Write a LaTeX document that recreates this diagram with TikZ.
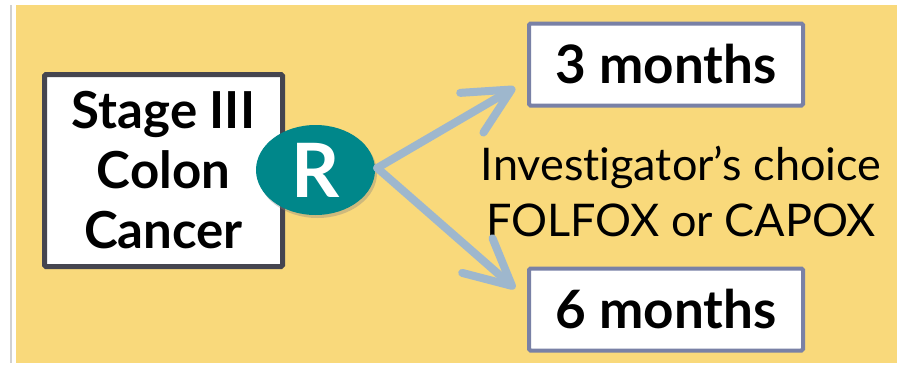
\documentclass[tikz,border=0pt]{standalone}
\usepackage{fontspec}
\setmainfont{Lato}[Ligatures=NoCommon]
\usetikzlibrary{calc,positioning,shapes,arrows.meta,shadows}
\definecolor{bgyel}{HTML}{F9D97B}
\definecolor{rteal}{HTML}{00878A}
\definecolor{arrblue}{HTML}{9EB7CD}
\definecolor{boxgray}{HTML}{45454F}
\definecolor{boxblue}{HTML}{7981A6}
\tikzset{stagebox/.style={draw=boxgray,fill=white,line width=5pt,rounded corners=1.5pt,
minimum width=238pt,minimum height=192pt,align=center,inner sep=0pt,
font=\bfseries\fontsize{51}{60}\selectfont},
armbox/.style={draw=boxblue,fill=white,line width=4pt,rounded corners=1.5pt,
minimum width=274pt,minimum height=82pt,inner sep=0pt,font=\bfseries\fontsize{53}{60}\selectfont},
rand/.style={ellipse,fill=rteal,text=white,minimum width=119pt,minimum height=90pt,
inner sep=0pt,font=\bfseries\fontsize{75}{75}\selectfont,
drop shadow={opacity=0.35,shadow xshift=2pt,shadow yshift=-3pt}}}
\tikzstyle{arrow} = [line width=8pt,draw=arrblue,line cap=round,
-{Straight Barb[length=46pt,width=46pt,round]}]

\begin{document}
\begin{tikzpicture}[x=1pt,y=-1pt]
	\useasboundingbox (0,0) rectangle (904,367);
	\fill[white] (0,0) rectangle (904,367);
	\fill[bgyel] (16,5) rectangle (897,363);
	\draw[black!18,line width=2pt] (11,5) -- (11,363);

	\node[stagebox] (stage) at (163.5,170.5) {Stage III\\Colon\\Cancer};
	\node[rand] (R) at (315.5,170) {R};
	\node[armbox] (three) at (666,64.5) {3 months};
	\node[armbox] (six) at (666,309.5) {6 months};
	\node[align=center,font=\fontsize{45}{56}\selectfont] (choice) at (681,191)
		{Investigator’s choice\\FOLFOX or CAPOX};

	\coordinate (upend) at ($(three.south west)+(-12,-20)$);
	\coordinate (downend) at ($(six.north west)+(-12,22)$);
	\coordinate (split) at ($(R.east)+(2,-2)$);
	\draw[arrow] (split) -- (upend);
	\draw[arrow] (split) -- (downend);
\end{tikzpicture}
\end{document}
